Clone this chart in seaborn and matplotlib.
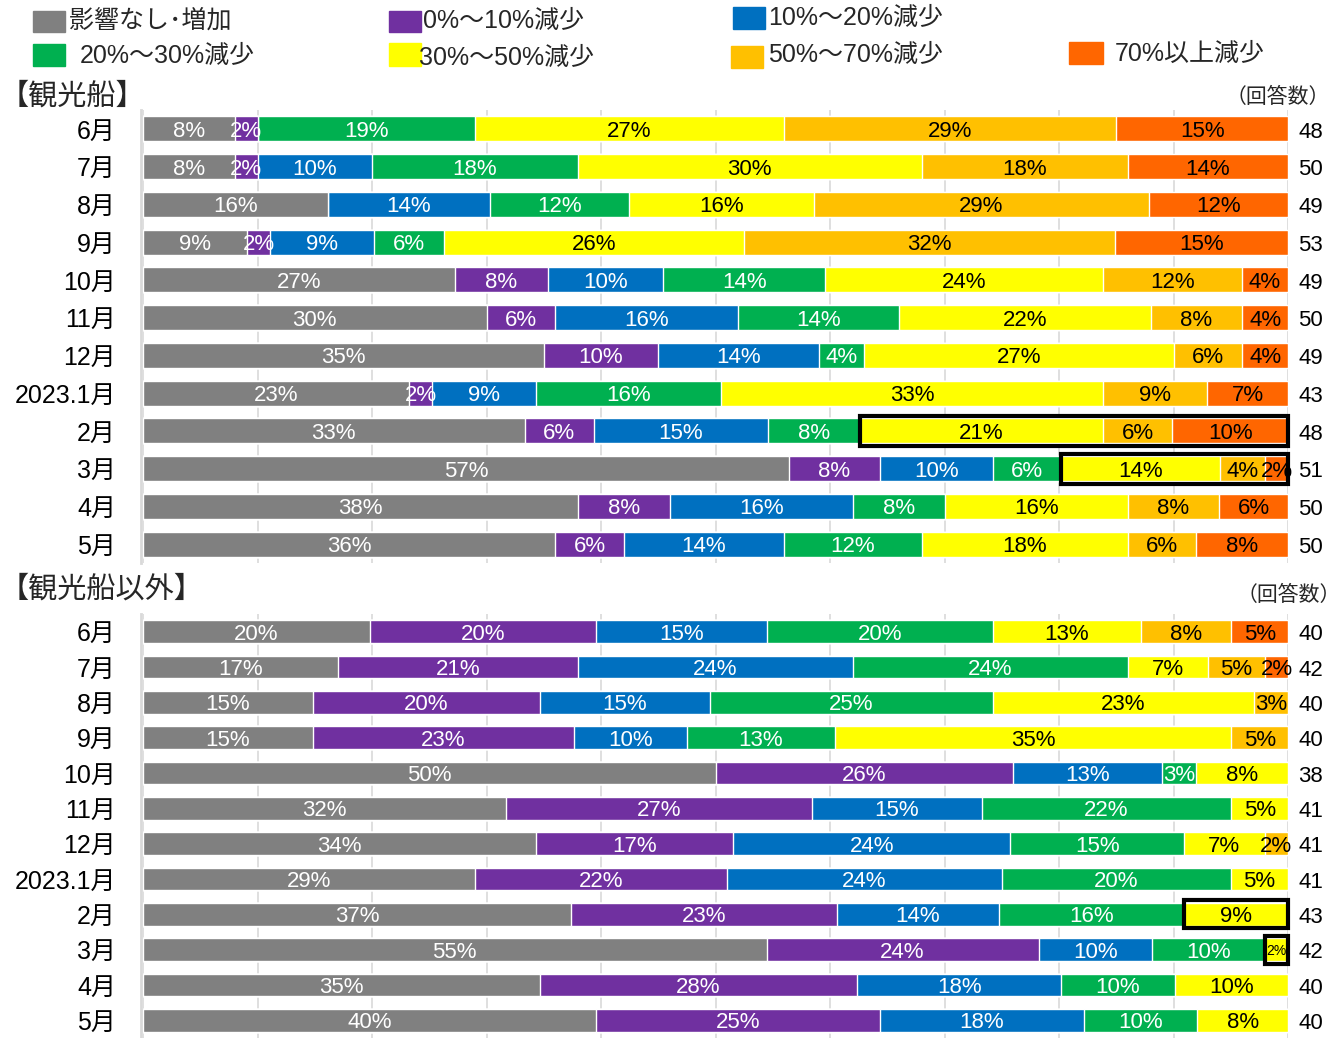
import numpy as np
import pandas as pd
import seaborn as sns
import matplotlib.pyplot as plt
from matplotlib.patches import Rectangle
from matplotlib.transforms import blended_transform_factory

# Categories and colours
categories = ['影響なし･増加', '0%～10%減少', '10%～20%減少', '20%～30%減少',
              '30%～50%減少', '50%～70%減少', '70%以上減少']
colors = ['#808080', '#7030A0', '#0070C0', '#00B050', '#FFFF00', '#FFC000', '#FF6600']
label_colors = ['white'] * 4 + ['black'] * 3

months = ['6月', '7月', '8月', '9月', '10月', '11月', '12月', '2023.1月', '2月', '3月', '4月', '5月']

# 観光船 (%)
ship_none = [8, 8, 16, 9, 27, 30, 35, 23, 33, 57, 38, 36]
ship_0_10 = [2, 2, 0, 2, 8, 6, 10, 2, 6, 8, 8, 6]
ship_10_20 = [0, 10, 14, 9, 10, 16, 14, 9, 15, 10, 16, 14]
ship_20_30 = [19, 18, 12, 6, 14, 14, 4, 16, 8, 6, 8, 12]
ship_30_50 = [27, 30, 16, 26, 24, 22, 27, 33, 21, 14, 16, 18]
ship_50_70 = [29, 18, 29, 32, 12, 8, 6, 9, 6, 4, 8, 6]
ship_70 = [15, 14, 12, 15, 4, 4, 4, 7, 10, 2, 6, 8]
ship_n = [48, 50, 49, 53, 49, 50, 49, 43, 48, 51, 50, 50]
ship_boxes = ['2月', '3月']

# 観光船以外 (%)
other_none = [20, 17, 15, 15, 50, 32, 34, 29, 37, 55, 35, 40]
other_0_10 = [20, 21, 20, 23, 26, 27, 17, 22, 23, 24, 28, 25]
other_10_20 = [15, 24, 15, 10, 13, 15, 24, 24, 14, 10, 18, 18]
other_20_30 = [20, 24, 25, 13, 3, 22, 15, 20, 16, 10, 10, 10]
other_30_50 = [13, 7, 23, 35, 8, 5, 7, 5, 9, 2, 10, 8]
other_50_70 = [8, 5, 3, 5, 0, 0, 2, 0, 0, 0, 0, 0]
other_70 = [5, 2, 0, 0, 0, 0, 0, 0, 0, 0, 0, 0]
other_n = [40, 42, 40, 40, 38, 41, 41, 41, 43, 42, 40, 40]
other_boxes = ['2月', '3月']
other_small = [('3月', '30%～50%減少')]

W, H = 1341, 1038

sns.set_theme(style='white')
plt.rcParams['font.family'] = ['Liberation Sans', 'Noto Sans CJK JP', 'DejaVu Sans']


def draw_panel(ax, values, counts, boxes, bar_w, small=()):
    df = pd.DataFrame(np.array(values).T, index=months, columns=categories)
    share = df.div(df.sum(axis=1), axis=0) * 100
    cum = share.cumsum(axis=1)

    # stacked bars: draw the cumulative totals from the right-most segment down
    for i in range(len(categories) - 1, -1, -1):
        sns.barplot(x=cum.iloc[:, i].values, y=months, color=colors[i], saturation=1,
                    width=bar_w, orient='h', ax=ax, zorder=2)

    for r, m in enumerate(months):
        for i, c in enumerate(categories):
            v = df.loc[m, c]
            if v > 0:
                fs = 10 if (m, c) in small else 16
                ax.text(cum.loc[m, c] - share.loc[m, c] / 2, r, f'{v}%', ha='center',
                        va='center_baseline', color=label_colors[i], fontsize=fs, zorder=4)

    trans = blended_transform_factory(ax.transAxes, ax.transData)
    for r, n in enumerate(counts):
        ax.text(1.009, r + 0.02, str(n), transform=trans, ha='left', va='center_baseline',
                fontsize=16, color='black')

    # highlight boxes from the 30%～50% segment to the end of the row
    box_h = 0.8
    for m in boxes:
        r = months.index(m)
        x0 = cum.loc[m].iloc[3]
        ax.add_patch(Rectangle((x0, r - box_h / 2), 100 - x0, box_h, fill=False, ec='black',
                               lw=3, zorder=5, clip_on=False))

    ax.set_xlim(0, 100)
    ax.set_ylim(len(months) - 0.5, -0.5)
    ax.set_xticks(range(0, 101, 10))
    ax.xaxis.grid(True, color='#D9D9D9', lw=1.2)
    ax.yaxis.grid(False)
    ax.set_axisbelow(True)
    ax.tick_params(axis='x', length=0, labelbottom=False)
    ax.tick_params(axis='y', length=0, labelsize=18, pad=18, colors='black')
    ax.set_xlabel('')
    ax.set_ylabel('')
    for s in ['top', 'right', 'bottom']:
        ax.spines[s].set_visible(False)
    ax.spines['left'].set_color('#D9D9D9')
    ax.spines['left'].set_linewidth(2)
    ax.spines['left'].set_position(('outward', 1.5))


fig = plt.figure(figsize=(W / 100, H / 100), dpi=100)

ax_top = fig.add_axes([143 / W, 1 - 563 / H, 1145 / W, 453 / H])
draw_panel(ax_top, [ship_none, ship_0_10, ship_10_20, ship_20_30, ship_30_50, ship_50_70, ship_70],
           ship_n, ship_boxes, 0.66)

ax_bot = fig.add_axes([143 / W, 0, 1145 / W, 424 / H])
draw_panel(ax_bot, [other_none, other_0_10, other_10_20, other_20_30, other_30_50, other_50_70, other_70],
           other_n, other_boxes, 0.65, other_small)

# section titles
fig.text(0, 1 - 97 / H, '【観光船】', ha='left', va='center', fontsize=21)
fig.text(0, 1 - 590 / H, '【観光船以外】', ha='left', va='center', fontsize=21)
fig.text(1330 / W, 1 - 97 / H, '（回答数）', ha='right', va='center', fontsize=15)
fig.text(1341 / W, 1 - 595 / H, '（回答数）', ha='right', va='center', fontsize=15)

# legend (patch x, y, w, h and text x, y in pixels)
legend_pos = [
    (33, 11, 32, 21, 69, 21),
    (389, 11, 32, 21, 423, 21),
    (733, 7, 32, 22, 768, 18),
    (33, 44, 32, 22, 80, 56),
    (389, 43, 32, 23, 419, 58),
    (731, 46, 32, 22, 768, 55),
    (1069, 42, 34, 22, 1115, 54),
]
for (px, py, pw, ph, tx, ty), lab, col in zip(legend_pos, categories, colors):
    fig.add_artist(Rectangle((px / W, 1 - (py + ph) / H), pw / W, ph / H, color=col,
                             transform=fig.transFigure))
    fig.text(tx / W, 1 - ty / H, lab, ha='left', va='center', fontsize=18)

fig.savefig('out.png', dpi=100)
